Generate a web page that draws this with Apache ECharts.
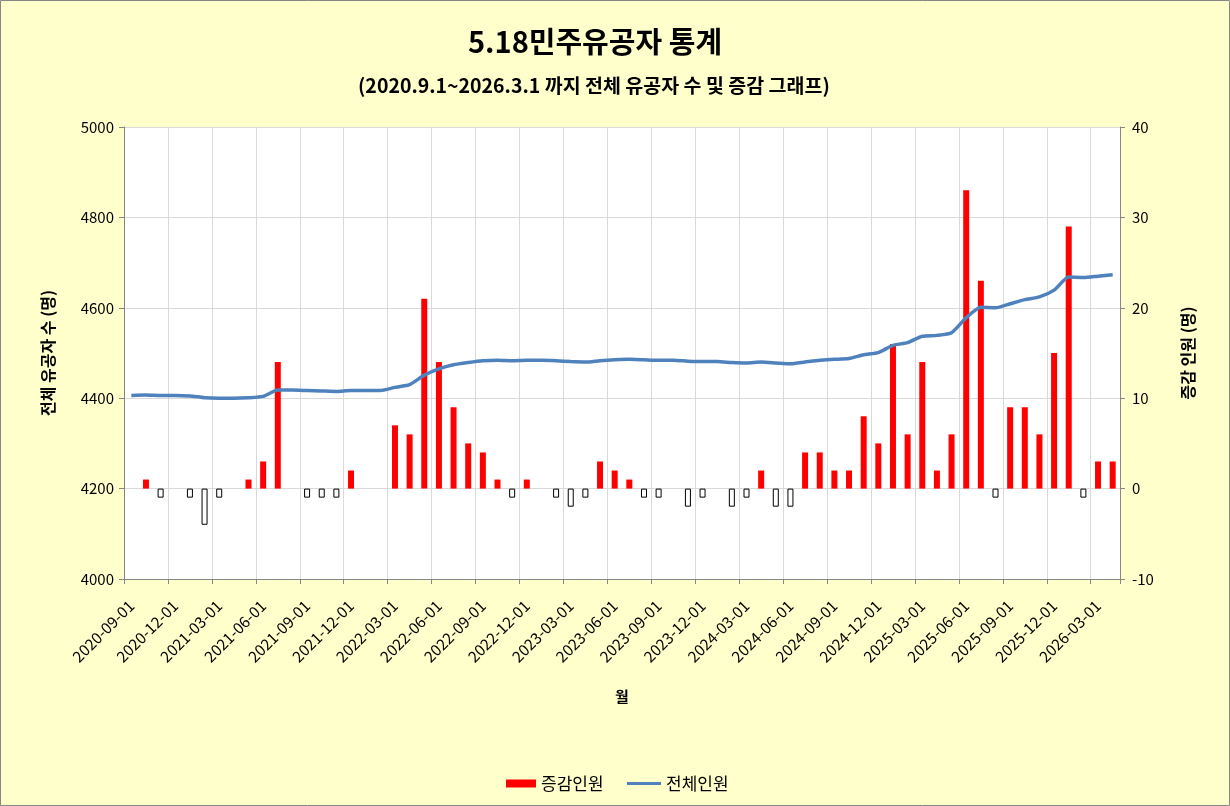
<!DOCTYPE html>
<html>
<head>
<meta charset="utf-8">
<script src="https://cdn.jsdelivr.net/npm/echarts@6/dist/echarts.min.js"></script>
<style>
    html, body { margin: 0; padding: 0; background: #FFFFCC; }
    #main { width: 1230px; height: 806px; }
</style>
</head>
<body>
<div id="main"></div>
<script>
// x 축 눈금 라벨 (3개월 간격, 해당 월 구간 가운데에 표시)
var tickLabels = ['2020-09-01', '2020-12-01', '2021-03-01', '2021-06-01', '2021-09-01', '2021-12-01',
    '2022-03-01', '2022-06-01', '2022-09-01', '2022-12-01', '2023-03-01', '2023-06-01',
    '2023-09-01', '2023-12-01', '2024-03-01', '2024-06-01', '2024-09-01', '2024-12-01',
    '2025-03-01', '2025-06-01', '2025-09-01', '2025-12-01', '2026-03-01']

// 월별 증감인원 (2020-09 ~ 2026-04, 첫 달은 값 없음)
var changeCount = [null, 1, -1, 0, -1, -4, -1, 0, 1, 3, 14, 0,
    -1, -1, -1, 2, 0, 0, 7, 6, 21, 14, 9, 5,
    4, 1, -1, 1, 0, -1, -2, -1, 3, 2, 1, -1,
    -1, 0, -2, -1, 0, -2, -1, 2, -2, -2, 4, 4,
    2, 2, 8, 5, 16, 6, 14, 2, 6, 33, 23, -1,
    9, 9, 6, 15, 29, -1, 3, 3]

// 월별 전체인원
var totalCount = [4406, 4407, 4406, 4406, 4405, 4401, 4400, 4400, 4401, 4404, 4418, 4418,
    4417, 4416, 4415, 4417, 4417, 4417, 4424, 4430, 4451, 4465, 4474, 4479,
    4483, 4484, 4483, 4484, 4484, 4483, 4481, 4480, 4483, 4485, 4486, 4485,
    4484, 4484, 4482, 4481, 4481, 4479, 4478, 4480, 4478, 4476, 4480, 4484,
    4486, 4488, 4496, 4501, 4517, 4523, 4537, 4539, 4545, 4578, 4601, 4600,
    4609, 4618, 4624, 4639, 4668, 4667, 4670, 4673]

var FONT = '"Noto Sans CJK KR", "Noto Sans", sans-serif'

InitChart()

function InitChart() {
    var myChart = echarts.init(document.getElementById('main'))

    // 막대: 월 구간의 가운데에 놓음, 음수는 흰 바탕 + 검은 테두리
    var barData = changeCount.map(function (v, i) {
        if (v === null) return { value: [i + 0.5, null] }
        var item = { value: [i + 0.5, v] }
        if (v < 0) {
            item.itemStyle = { color: '#FFFFFF', borderColor: '#000000', borderWidth: 1 }
        }
        return item
    })
    var lineData = totalCount.map(function (v, i) {
        return [i + 0.5, v]
    })
    // 라벨 위치 (3개월마다, 월 구간 가운데)
    var labelValues = tickLabels.map(function (t, k) {
        return k * 3 + 0.5
    })

    var legendText = { fontFamily: FONT, fontSize: 17, color: '#000' }

    var option = {
        backgroundColor: '#FFFFCC',
        textStyle: { fontFamily: FONT },
        title: [
            {
                text: '5.18민주유공자 통계',
                left: 463,
                top: 22,
                textStyle: { fontFamily: FONT, fontSize: 29, fontWeight: 'bold', color: '#000' }
            },
            {
                text: '(2020.9.1~2026.3.1 까지 전체 유공자 수 및 증감 그래프)',
                left: 353,
                top: 71,
                textStyle: { fontFamily: FONT, fontSize: 19.5, fontWeight: 'bold', color: '#000' }
            }
        ],
        // 범례: 막대용 / 선용 따로 (선은 얇은 막대 모양)
        legend: [
            {
                left: 501,
                top: 770,
                itemWidth: 30,
                itemHeight: 8,
                textStyle: legendText,
                data: [{ name: '증감인원', icon: 'rect' }]
            },
            {
                left: 622,
                top: 770,
                itemWidth: 34,
                itemHeight: 3,
                itemGap: 4,
                textStyle: legendText,
                data: [{ name: '전체인원', icon: 'rect' }]
            }
        ],
        grid: {
            left: 124,
            right: 110,
            top: 127,
            bottom: 227,
            show: true,
            backgroundColor: '#FFFFFF',
            borderWidth: 0
        },
        xAxis: {
            type: 'value',
            min: 0,
            max: 68,
            interval: 3,
            name: '월',
            nameLocation: 'middle',
            nameGap: 110,
            nameTextStyle: { fontFamily: FONT, fontSize: 15, fontWeight: 'bold', color: '#000' },
            axisLine: { show: true, onZero: false, lineStyle: { color: '#868686' } },
            axisTick: { show: true, length: 5, lineStyle: { color: '#868686' } },
            axisLabel: {
                rotate: 45,
                margin: 24,
                fontFamily: FONT,
                fontSize: 15.5,
                color: '#000',
                customValues: labelValues,
                formatter: function (v) {
                    return tickLabels[Math.round((v - 0.5) / 3)] || ''
                }
            },
            splitLine: { show: true, lineStyle: { color: '#D9D9D9' } }
        },
        yAxis: [
            {
                type: 'value',
                min: 4000,
                max: 5000,
                interval: 200,
                name: '전체 유공자 수 (명)',
                nameLocation: 'middle',
                nameGap: 68,
                nameRotate: 90,
                nameTextStyle: { fontFamily: FONT, fontSize: 16, fontWeight: 'bold', color: '#000' },
                axisLine: { show: true, lineStyle: { color: '#868686' } },
                axisTick: { show: true, length: 5, lineStyle: { color: '#868686' } },
                axisLabel: {
                    fontFamily: FONT, fontSize: 15, color: '#000', margin: 10,
                    formatter: function (v) { return String(v) }
                },
                splitLine: { show: true, lineStyle: { color: '#D9D9D9' } }
            },
            {
                type: 'value',
                min: -10,
                max: 40,
                interval: 10,
                position: 'right',
                name: '증감 인원 (명)',
                nameLocation: 'middle',
                nameGap: 60,
                nameRotate: 90,
                nameTextStyle: { fontFamily: FONT, fontSize: 16, fontWeight: 'bold', color: '#000' },
                axisLine: { show: true, lineStyle: { color: '#868686' } },
                axisTick: { show: true, length: 5, lineStyle: { color: '#868686' } },
                axisLabel: { fontFamily: FONT, fontSize: 15, color: '#000', margin: 12 },
                splitLine: { show: false }
            }
        ],
        series: [
            {
                name: '증감인원',
                type: 'bar',
                yAxisIndex: 1,
                barWidth: 6,
                itemStyle: { color: '#FF0000' },
                data: barData
            },
            {
                name: '전체인원',
                type: 'line',
                yAxisIndex: 0,
                symbol: 'none',
                smooth: 0.2,
                lineStyle: { color: '#4F81BD', width: 3.5 },
                itemStyle: { color: '#4F81BD' },
                data: lineData
            }
        ],
        // 차트 바깥 테두리
        graphic: [
            {
                type: 'rect',
                shape: { x: 0.5, y: 0.5, width: 1229, height: 805 },
                style: { fill: null, stroke: '#868686', lineWidth: 1 },
                silent: true
            }
        ]
    }

    myChart.setOption(option)
}
</script>
</body>
</html>
